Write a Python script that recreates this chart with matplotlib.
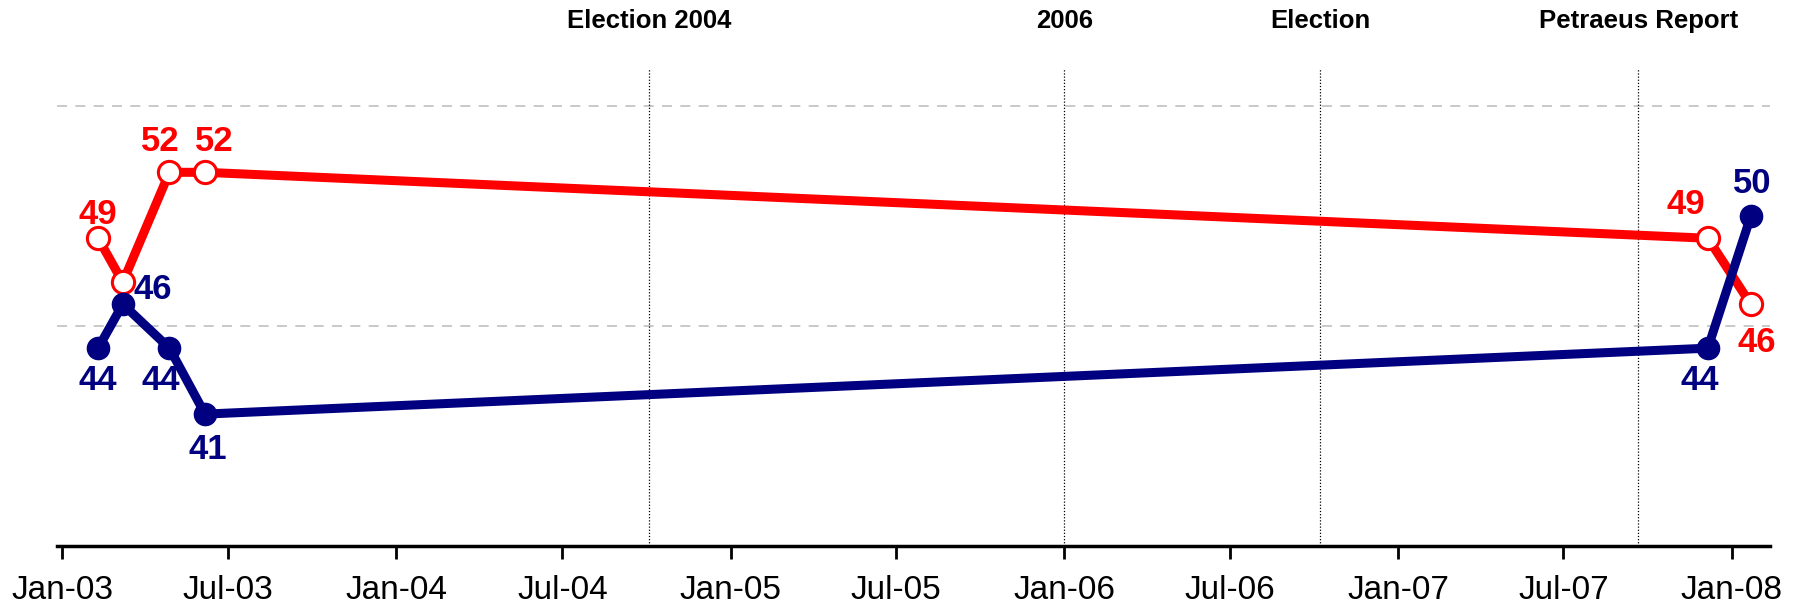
import datetime as dt
import matplotlib
matplotlib.use("Agg")
import matplotlib.pyplot as plt
import matplotlib.dates as mdates

# poll dates and values
dates = [dt.date(2003, 2, 9), dt.date(2003, 3, 8), dt.date(2003, 4, 28),
         dt.date(2003, 6, 6), dt.date(2007, 12, 6), dt.date(2008, 1, 22)]
red_vals = [49, 47, 52, 52, 49, 46]
blue_vals = [44, 46, 44, 41, 44, 50]

# which points get a label, with offsets in pixels
red_labels = {0: (0, 24), 2: (-9, 31), 3: (9, 31), 4: (-22, 34), 5: (6, -38)}
blue_labels = {0: (0, -32), 1: (30, 15), 2: (-9, -32), 3: (3, -35), 4: (-8, -32), 5: (1, 33)}

# event markers
event_dates = [dt.date(2004, 10, 4), dt.date(2006, 1, 1), dt.date(2006, 10, 8), dt.date(2007, 9, 21)]
event_names = ["Election 2004", "2006", "Election", "Petraeus Report"]

tick_dates = [dt.date(y, m, 1) for y in range(2003, 2009) for m in (1, 7)][:-1]

RED = "#FF0000"
NAVY = "#000080"

plt.rcParams['font.family'] = ['Liberation Sans', 'DejaVu Sans']

fig = plt.figure(figsize=(18.02, 6.09), dpi=100)
ax = fig.add_axes([57 / 1802, 1 - 546 / 609, (1770 - 57) / 1802, (546 - 69) / 609])

ax.set_xlim(dt.date(2002, 12, 26), dt.date(2008, 2, 12))
ax.set_ylim(35, 56.7)

for y in (45, 55):
    ax.axhline(y, color="#c0c0c0", lw=1.2, ls=(0, (6, 5)), zorder=1)
for d in event_dates:
    ax.axvline(d, color="black", lw=0.9, ls=(0, (1, 1.5)), zorder=1)

ax.plot(dates, red_vals, color=RED, lw=6.5, marker="o", ms=16,
        mfc="white", mec=RED, mew=2.2, zorder=3)
ax.plot(dates, blue_vals, color=NAVY, lw=6.5, marker="o", ms=16,
        mfc=NAVY, mec=NAVY, zorder=4)

for i, off in red_labels.items():
    ax.annotate(str(red_vals[i]), (dates[i], red_vals[i]), xytext=off,
                textcoords="offset pixels", ha="center", va="center",
                color=RED, fontsize=25, fontweight="bold", zorder=5)
for i, off in blue_labels.items():
    ax.annotate(str(blue_vals[i]), (dates[i], blue_vals[i]), xytext=off,
                textcoords="offset pixels", ha="center", va="center",
                color=NAVY, fontsize=25, fontweight="bold", zorder=5)

for d, name in zip(event_dates, event_names):
    ax.annotate(name, (mdates.date2num(d), 1), xycoords=("data", "figure fraction"),
                xytext=(0, -21), textcoords="offset pixels", ha="center", va="center",
                fontsize=18.5, fontweight="bold")

for s in ("left", "right", "top"):
    ax.spines[s].set_visible(False)
ax.spines["bottom"].set_linewidth(2.5)
ax.set_yticks([])
ax.set_xticks(tick_dates)
ax.xaxis.set_major_formatter(mdates.DateFormatter("%b-%y"))
ax.tick_params(axis="x", direction="out", length=9, width=2, pad=12)
for lbl in ax.get_xticklabels():
    lbl.set_fontsize(24)

fig.savefig("out.png", dpi=100)
